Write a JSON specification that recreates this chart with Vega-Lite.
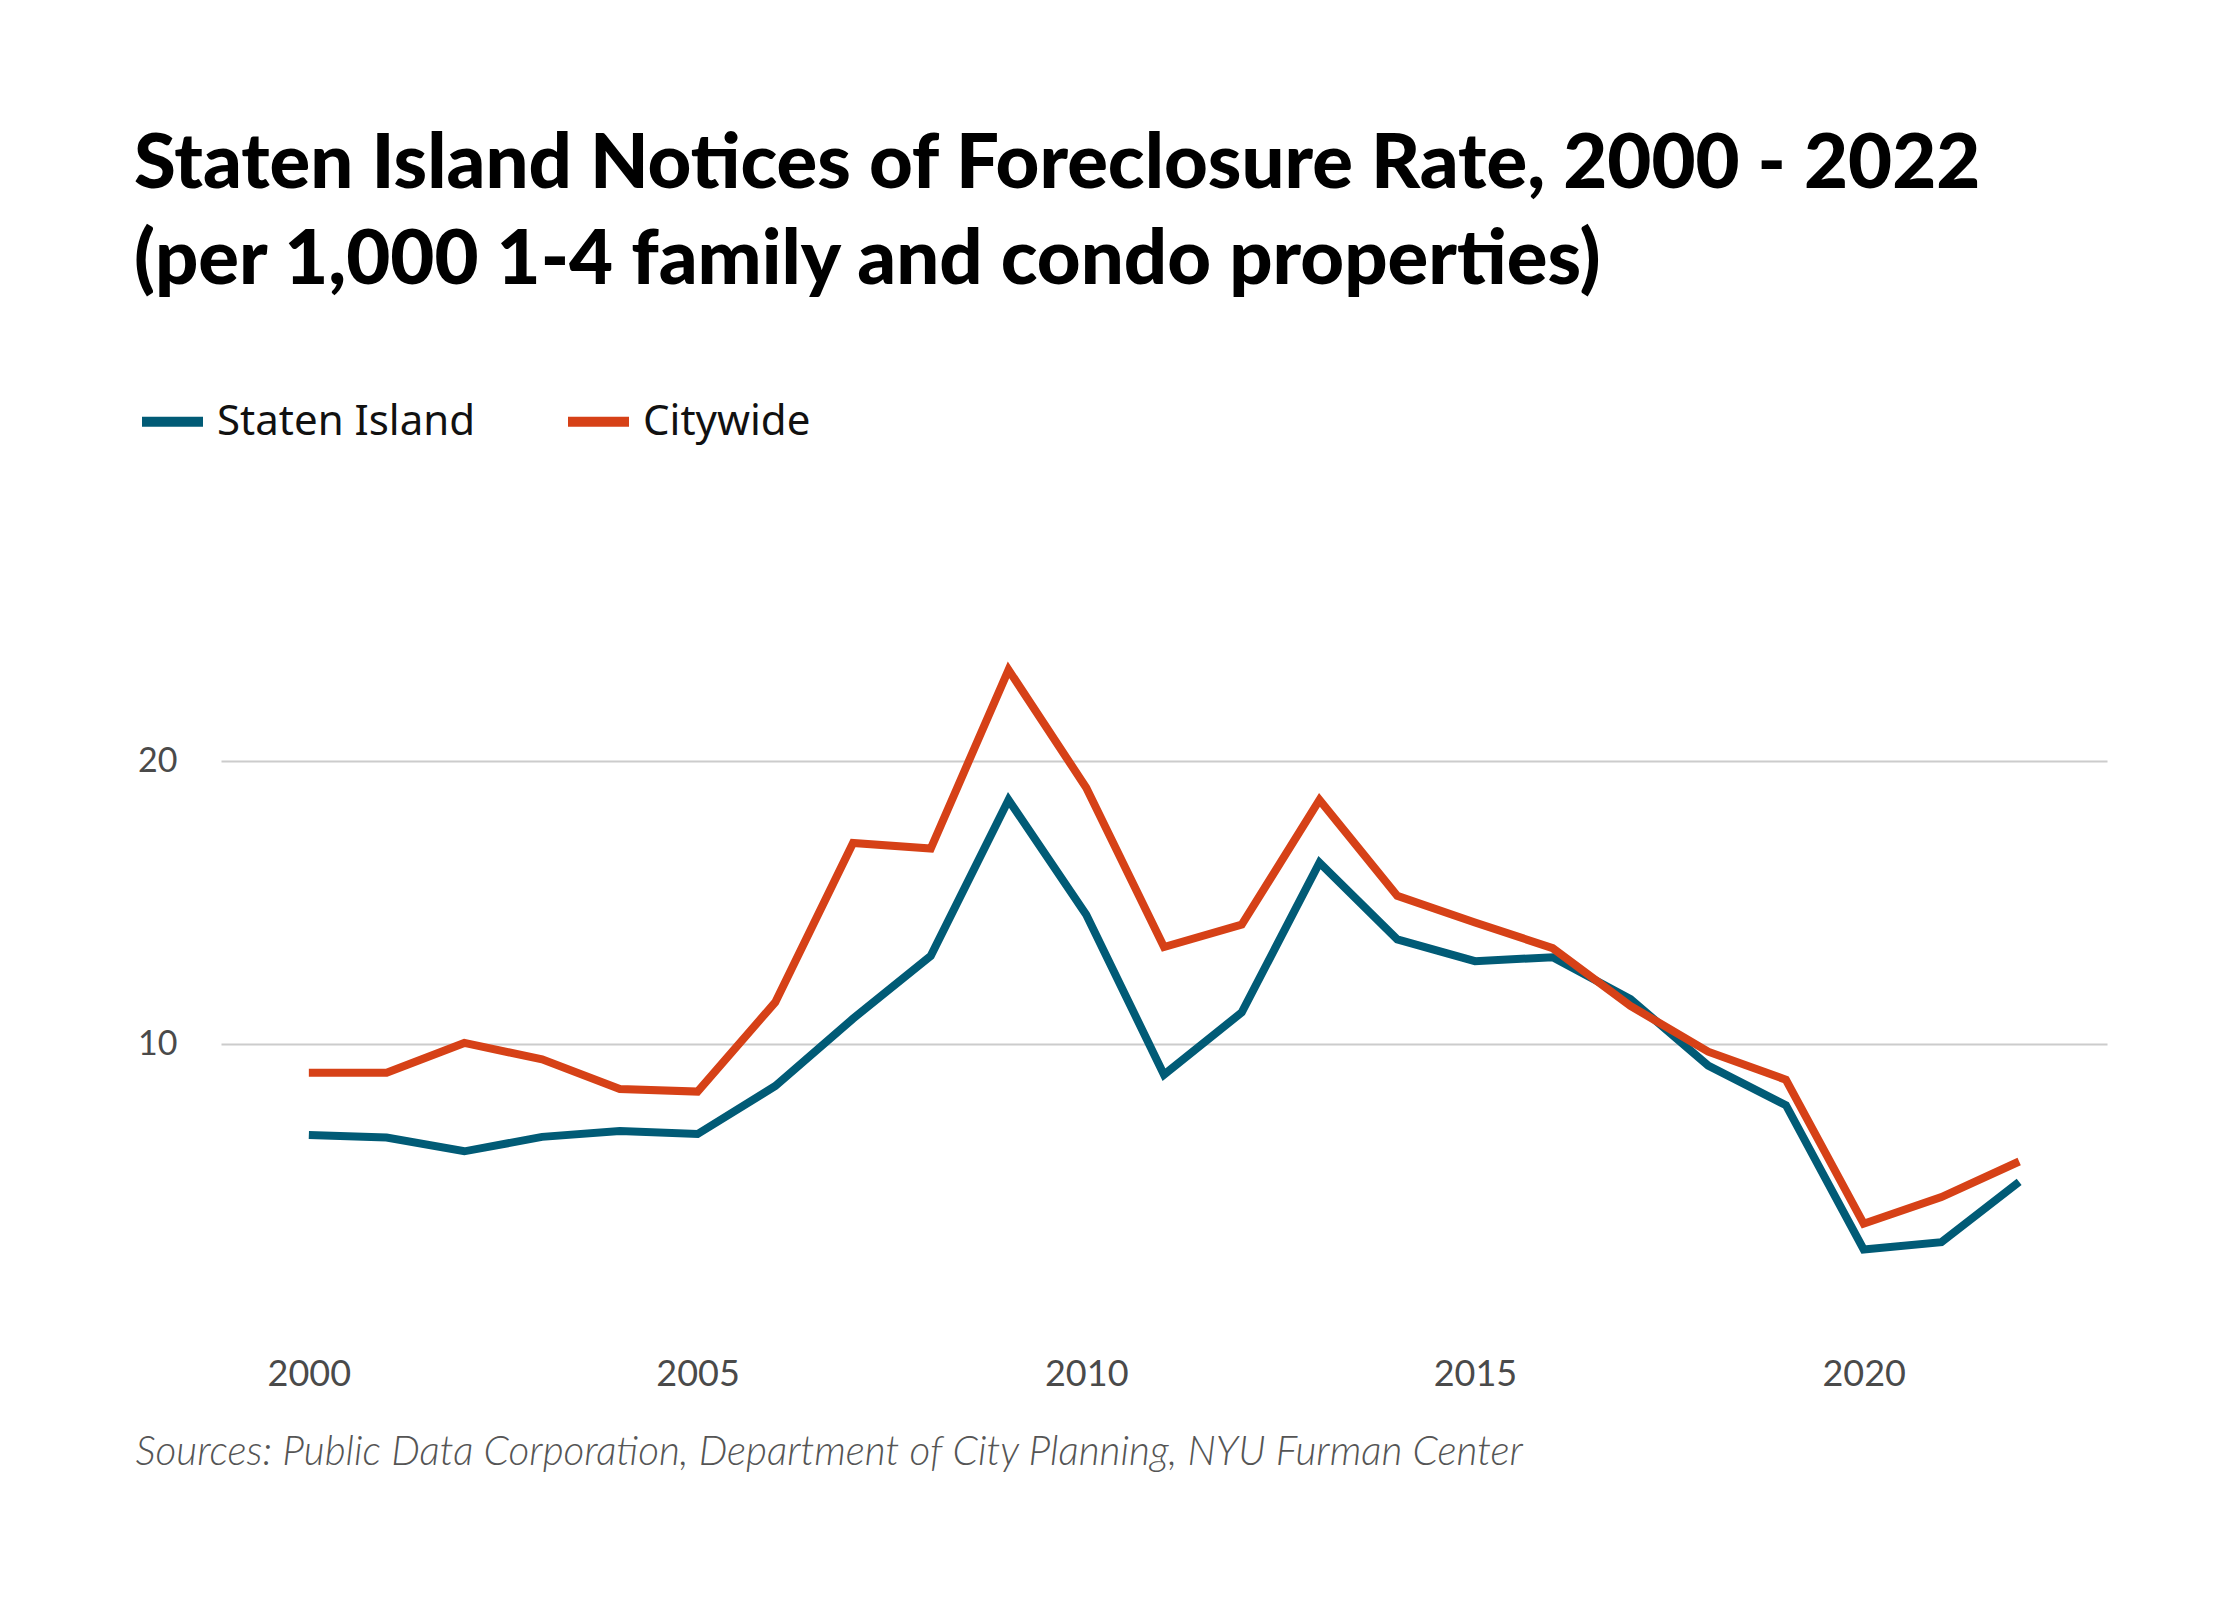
{
  "$schema": "https://vega.github.io/schema/vega-lite/v6.json",
  "width": 1886,
  "height": 679,
  "autosize": {"type": "none"},
  "padding": {"left": 221, "top": 648, "right": 133, "bottom": 273},
  "background": "white",
  "title": {
    "text": ["Staten Island Notices of Foreclosure Rate, 2000 - 2022", "(per 1,000 1-4 family and condo properties)"],
    "anchor": "start",
    "frame": "group",
    "dx": -87,
    "font": "Lato",
    "fontWeight": 900,
    "fontSize": 76,
    "lineHeight": 96,
    "color": "#000000",
    "offset": 86
  },
  "config": {"view": {"stroke": null}},
  "data": {
    "values": [
      {"year": 2000, "area": "Staten Island", "rate": 6.79},
      {"year": 2001, "area": "Staten Island", "rate": 6.7},
      {"year": 2002, "area": "Staten Island", "rate": 6.21},
      {"year": 2003, "area": "Staten Island", "rate": 6.72},
      {"year": 2004, "area": "Staten Island", "rate": 6.93},
      {"year": 2005, "area": "Staten Island", "rate": 6.82},
      {"year": 2006, "area": "Staten Island", "rate": 8.52},
      {"year": 2007, "area": "Staten Island", "rate": 10.9},
      {"year": 2008, "area": "Staten Island", "rate": 13.12},
      {"year": 2009, "area": "Staten Island", "rate": 18.63},
      {"year": 2010, "area": "Staten Island", "rate": 14.57},
      {"year": 2011, "area": "Staten Island", "rate": 8.92},
      {"year": 2012, "area": "Staten Island", "rate": 11.12},
      {"year": 2013, "area": "Staten Island", "rate": 16.41},
      {"year": 2014, "area": "Staten Island", "rate": 13.7},
      {"year": 2015, "area": "Staten Island", "rate": 12.93},
      {"year": 2016, "area": "Staten Island", "rate": 13.07},
      {"year": 2017, "area": "Staten Island", "rate": 11.59},
      {"year": 2018, "area": "Staten Island", "rate": 9.24},
      {"year": 2019, "area": "Staten Island", "rate": 7.84},
      {"year": 2020, "area": "Staten Island", "rate": 2.74},
      {"year": 2021, "area": "Staten Island", "rate": 3.0},
      {"year": 2022, "area": "Staten Island", "rate": 5.13},
      {"year": 2000, "area": "Citywide", "rate": 8.99},
      {"year": 2001, "area": "Citywide", "rate": 8.99},
      {"year": 2002, "area": "Citywide", "rate": 10.04},
      {"year": 2003, "area": "Citywide", "rate": 9.46},
      {"year": 2004, "area": "Citywide", "rate": 8.41},
      {"year": 2005, "area": "Citywide", "rate": 8.32},
      {"year": 2006, "area": "Citywide", "rate": 11.48},
      {"year": 2007, "area": "Citywide", "rate": 17.11},
      {"year": 2008, "area": "Citywide", "rate": 16.91},
      {"year": 2009, "area": "Citywide", "rate": 23.23},
      {"year": 2010, "area": "Citywide", "rate": 19.06},
      {"year": 2011, "area": "Citywide", "rate": 13.43},
      {"year": 2012, "area": "Citywide", "rate": 14.22},
      {"year": 2013, "area": "Citywide", "rate": 18.63},
      {"year": 2014, "area": "Citywide", "rate": 15.24},
      {"year": 2015, "area": "Citywide", "rate": 14.3},
      {"year": 2016, "area": "Citywide", "rate": 13.39},
      {"year": 2017, "area": "Citywide", "rate": 11.35},
      {"year": 2018, "area": "Citywide", "rate": 9.73},
      {"year": 2019, "area": "Citywide", "rate": 8.74},
      {"year": 2020, "area": "Citywide", "rate": 3.65},
      {"year": 2021, "area": "Citywide", "rate": 4.59},
      {"year": 2022, "area": "Citywide", "rate": 5.85}
    ]
  },
  "mark": {"type": "line", "strokeWidth": 8, "strokeJoin": "miter", "strokeCap": "butt"},
  "encoding": {
    "x": {
      "field": "year",
      "type": "quantitative",
      "scale": {"domain": [1998.87, 2023.13], "nice": false, "zero": false},
      "axis": {
        "values": [2000, 2005, 2010, 2015, 2020],
        "format": "d",
        "grid": false,
        "domain": false,
        "ticks": false,
        "labelFont": "Lato",
        "labelFontSize": 36,
        "labelColor": "#4a4a4a",
        "labelPadding": 30,
        "title": "Sources: Public Data Corporation, Department of City Planning, NYU Furman Center",
        "titleX": -86,
        "titleY": 137,
        "titleAlign": "left",
        "titleAnchor": "start",
        "titleBaseline": "alphabetic",
        "titleFont": "Lato",
        "titleFontStyle": "italic",
        "titleFontWeight": 300,
        "titleFontSize": 40.5,
        "titleColor": "#555555"
      }
    },
    "y": {
      "field": "rate",
      "type": "quantitative",
      "scale": {"domain": [0, 24], "nice": false},
      "axis": {
        "values": [10, 20],
        "title": null,
        "domain": false,
        "ticks": false,
        "gridColor": "#cccccc",
        "gridWidth": 2,
        "labelFont": "Lato",
        "labelFontSize": 34,
        "labelColor": "#4a4a4a",
        "labelPadding": 44
      }
    },
    "color": {
      "field": "area",
      "type": "nominal",
      "scale": {"domain": ["Staten Island", "Citywide"], "range": ["#015b76", "#d64117"]},
      "legend": {
        "orient": "none",
        "legendX": -84,
        "legendY": -262,
        "direction": "horizontal",
        "title": null,
        "symbolType": "stroke",
        "symbolSize": 3721,
        "symbolStrokeWidth": 10,
        "labelFont": "Noto Sans",
        "labelFontSize": 42,
        "labelColor": "#111111",
        "labelOffset": 9,
        "labelLimit": 600,
        "columnPadding": 72
      }
    }
  }
}
